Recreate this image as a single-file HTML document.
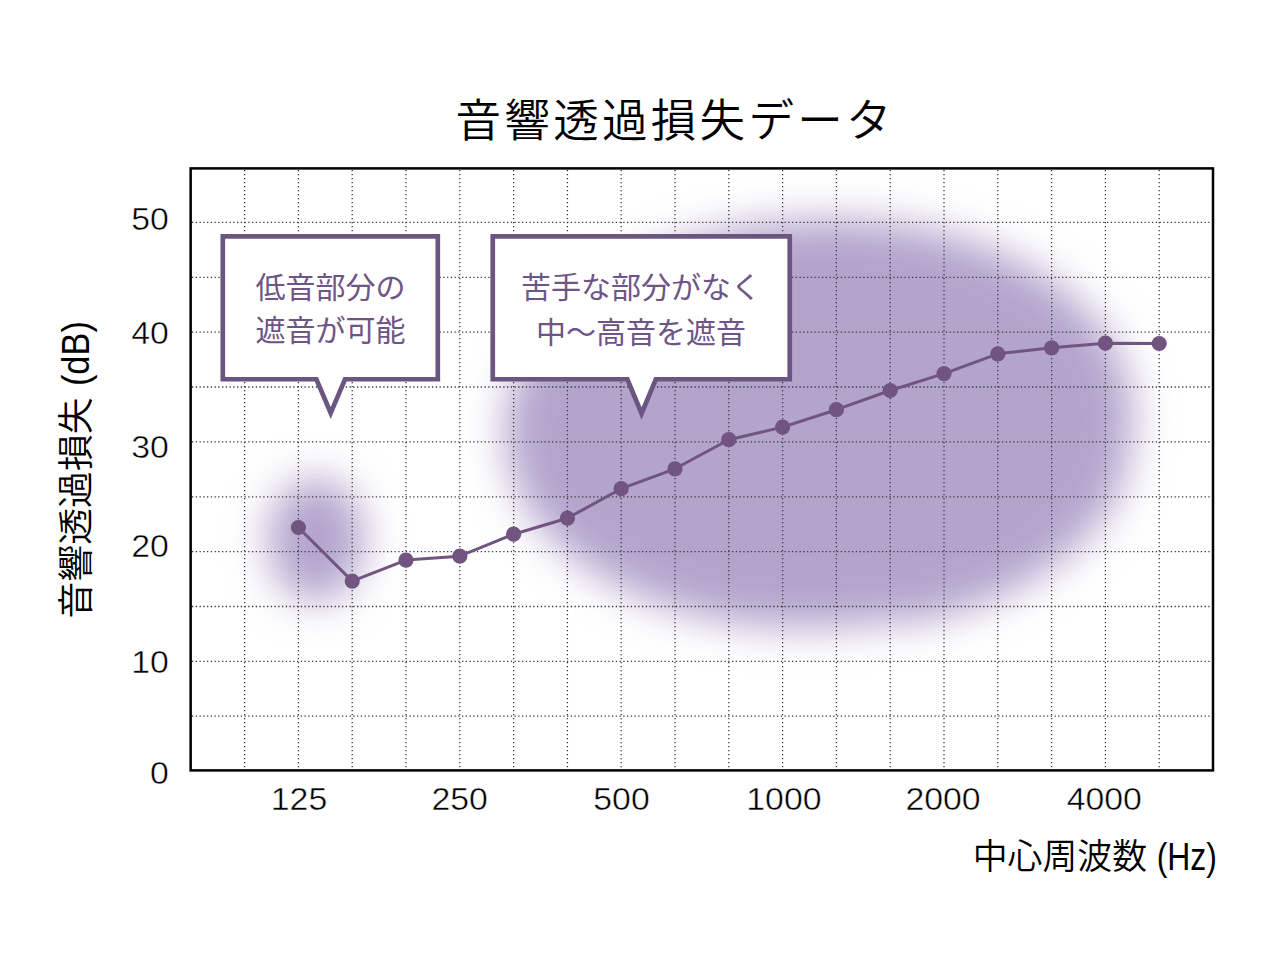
<!DOCTYPE html>
<html lang="ja"><head><meta charset="utf-8"><title>音響透過損失データ</title>
<style>
html,body{margin:0;padding:0;background:#fff;}
svg{display:block;}
</style></head>
<body>
<svg width="1280" height="960" viewBox="0 0 1280 960">
<defs>
<filter id="blur1" x="-50%" y="-50%" width="200%" height="200%"><feGaussianBlur stdDeviation="20"/></filter>
<filter id="blur2" x="-100%" y="-100%" width="300%" height="300%"><feGaussianBlur stdDeviation="20"/></filter>
</defs>
<rect width="1280" height="960" fill="#fff"/>
<g fill="#b3a4cc">
<g filter="url(#blur1)">
<ellipse cx="819" cy="424" rx="314" ry="204" transform="rotate(-2.4 819 424)"/>
<ellipse cx="960" cy="503.5" rx="179" ry="101" transform="rotate(-25 960 503.5)"/>
</g>
<ellipse cx="316" cy="540" rx="48" ry="62" opacity="1.0" filter="url(#blur2)"/>
</g>
<g stroke="#3a3a3a" stroke-width="1.3" fill="none">
<g stroke-dasharray="1.3 2.7">
<line x1="244.6" y1="170" x2="244.6" y2="768.5"/>
<line x1="298.4" y1="170" x2="298.4" y2="768.5"/>
<line x1="352.2" y1="170" x2="352.2" y2="768.5"/>
<line x1="406.0" y1="170" x2="406.0" y2="768.5"/>
<line x1="459.8" y1="170" x2="459.8" y2="768.5"/>
<line x1="513.6" y1="170" x2="513.6" y2="768.5"/>
<line x1="567.4" y1="170" x2="567.4" y2="768.5"/>
<line x1="621.2" y1="170" x2="621.2" y2="768.5"/>
<line x1="675.0" y1="170" x2="675.0" y2="768.5"/>
<line x1="728.8" y1="170" x2="728.8" y2="768.5"/>
<line x1="782.6" y1="170" x2="782.6" y2="768.5"/>
<line x1="836.4" y1="170" x2="836.4" y2="768.5"/>
<line x1="890.2" y1="170" x2="890.2" y2="768.5"/>
<line x1="944.0" y1="170" x2="944.0" y2="768.5"/>
<line x1="997.8" y1="170" x2="997.8" y2="768.5"/>
<line x1="1051.6" y1="170" x2="1051.6" y2="768.5"/>
<line x1="1105.4" y1="170" x2="1105.4" y2="768.5"/>
<line x1="1159.2" y1="170" x2="1159.2" y2="768.5"/>
</g>
<g stroke-dasharray="1.3 2.45">
<line x1="192" y1="222.4" x2="1212" y2="222.4"/>
<line x1="192" y1="277.3" x2="1212" y2="277.3"/>
<line x1="192" y1="332.1" x2="1212" y2="332.1"/>
<line x1="192" y1="387.0" x2="1212" y2="387.0"/>
<line x1="192" y1="441.9" x2="1212" y2="441.9"/>
<line x1="192" y1="496.8" x2="1212" y2="496.8"/>
<line x1="192" y1="551.6" x2="1212" y2="551.6"/>
<line x1="192" y1="606.5" x2="1212" y2="606.5"/>
<line x1="192" y1="661.4" x2="1212" y2="661.4"/>
<line x1="192" y1="716.2" x2="1212" y2="716.2"/>
</g>
</g>
<rect x="190.65" y="168.4" width="1022.35" height="602" fill="none" stroke="#000" stroke-width="2.5"/>
<polyline points="298.4,527.5 352.2,581.1 406.0,560.1 459.8,556.2 513.6,534.2 567.4,518.2 621.2,488.7 675.0,468.8 728.8,439.7 782.6,427.1 836.4,409.7 890.2,390.5 944.0,373.6 997.8,353.8 1051.6,347.8 1105.4,343.2 1159.2,343.5" fill="none" stroke="#715580" stroke-width="3.0" stroke-linejoin="round"/>
<g fill="#715580">
<circle cx="298.4" cy="527.5" r="7.6"/>
<circle cx="352.2" cy="581.1" r="7.6"/>
<circle cx="406.0" cy="560.1" r="7.6"/>
<circle cx="459.8" cy="556.2" r="7.6"/>
<circle cx="513.6" cy="534.2" r="7.6"/>
<circle cx="567.4" cy="518.2" r="7.6"/>
<circle cx="621.2" cy="488.7" r="7.6"/>
<circle cx="675.0" cy="468.8" r="7.6"/>
<circle cx="728.8" cy="439.7" r="7.6"/>
<circle cx="782.6" cy="427.1" r="7.6"/>
<circle cx="836.4" cy="409.7" r="7.6"/>
<circle cx="890.2" cy="390.5" r="7.6"/>
<circle cx="944.0" cy="373.6" r="7.6"/>
<circle cx="997.8" cy="353.8" r="7.6"/>
<circle cx="1051.6" cy="347.8" r="7.6"/>
<circle cx="1105.4" cy="343.2" r="7.6"/>
<circle cx="1159.2" cy="343.5" r="7.6"/>
</g>
<g fill="#fff" stroke="#6b5682" stroke-width="4.7" stroke-linejoin="miter" stroke-miterlimit="10">
<path d="M222.8,236.4 H437.8 V379.25 H345 L330.7,413.0 L316.4,379.25 H222.8 Z"/>
<path d="M492.75,236.3 H789.75 V379.25 H655.8 L641.6,413.5 L627.4,379.25 H492.75 Z"/>
</g>
<g font-family="'Liberation Sans', 'Noto Sans CJK JP', sans-serif" font-size="30" fill="#6e5585" text-anchor="middle">
<text x="330.5" y="297.6">低音部分の</text>
<text x="330.5" y="341.1">遮音が可能</text>
<text x="641" y="298">苦手な部分がなく</text>
<text x="641" y="343">中〜高音を遮音</text>
</g>
<g font-family="'Liberation Sans', 'Noto Sans CJK JP', sans-serif" fill="#000">
<g font-size="31.3" text-anchor="end" stroke="#fff" stroke-width="0.45">
<text transform="translate(168.9,230.1) scale(1.08,1)">50</text>
<text transform="translate(168.9,343.7) scale(1.08,1)">40</text>
<text transform="translate(168.9,457.6) scale(1.08,1)">30</text>
<text transform="translate(168.9,557.0) scale(1.08,1)">20</text>
<text transform="translate(168.9,672.5) scale(1.08,1)">10</text>
<text transform="translate(168.9,783.8) scale(1.08,1)">0</text>
</g>
<g font-size="31.3" text-anchor="middle" stroke="#fff" stroke-width="0.45">
<text transform="translate(299.0,809.6) scale(1.08,1)">125</text>
<text transform="translate(459.7,809.6) scale(1.08,1)">250</text>
<text transform="translate(621.5,809.6) scale(1.08,1)">500</text>
<text transform="translate(783.9,809.6) scale(1.08,1)">1000</text>
<text transform="translate(943.0,809.6) scale(1.08,1)">2000</text>
<text transform="translate(1104.3,809.6) scale(1.08,1)">4000</text>
</g>
<text x="455.6" y="136.9" font-size="45.5" letter-spacing="3.3" font-weight="350">音響透過損失データ</text>
<text x="972.7" y="869.4" font-size="34.86" font-weight="350">中心周波数</text>
<text transform="translate(1156.7,870.4) scale(0.84,1)" font-size="38">(Hz)</text>
<text transform="translate(89,618.4) rotate(-90)" font-size="36.85" font-weight="350">音響透過損失</text>
<text transform="translate(88.6,386.1) rotate(-90) scale(0.905,1)" font-size="38">(dB)</text>
</g>
</svg>
</body></html>
